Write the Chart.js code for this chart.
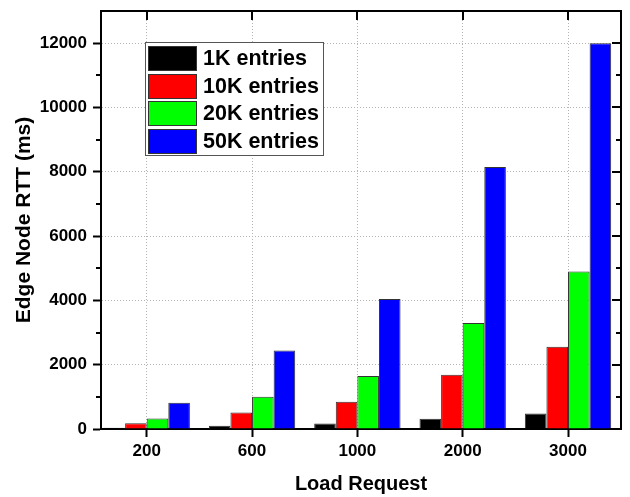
<!DOCTYPE html>
<html>
<head>
<meta charset="utf-8">
<script src="https://cdn.jsdelivr.net/npm/chart.js@4.4.0/dist/chart.umd.min.js"></script>
<style>
  html, body { margin: 0; padding: 0; background: #fff; }
  #wrap { width: 630px; height: 497px; }
</style>
</head>
<body>
<div id="wrap"><canvas id="rtt"></canvas></div>
<script>
// Edge node RTT vs load request, one series per table size
const LOADS   = ['200', '600', '1000', '2000', '3000'];
const SERIES  = ['1K entries', '10K entries', '20K entries', '50K entries'];
const RTT_1K  = [40, 100, 170, 320, 480];
const RTT_10K = [180, 510, 850, 1690, 2560];
const RTT_20K = [330, 1000, 1650, 3300, 4900];
const RTT_50K = [820, 2440, 4040, 8150, 12000];
const Y_MAX   = 13000;

const FONT   = "'Liberation Sans', Arial, sans-serif";
const COLORS = ['#000000', '#ff0000', '#00ff00', '#0000ff'];
const GRID   = '#b4b4b4';
const CLEAR  = 'rgba(0,0,0,0)';

Chart.defaults.font.family = FONT;
Chart.defaults.font.weight = 'bold';
Chart.defaults.color = '#000';

const isMajor = v => v % 2000 === 0;

// top/right frame, inward ticks and the left minor ticks
const frameTicks = {
	id: 'frameTicks',
	afterDraw( chart ) {
		const { ctx, chartArea: a, scales: { x, y } } = chart;
		ctx.save();
		ctx.strokeStyle = '#000';
		ctx.lineWidth = 2;
		ctx.beginPath();
		ctx.moveTo( a.left - 1, a.top );
		ctx.lineTo( a.right, a.top );
		ctx.lineTo( a.right, a.bottom + 1 );
		y.ticks.forEach( t => {
			if ( t.value >= Y_MAX ) return;
			const py = Math.round( y.getPixelForValue( t.value ) );
			const major = isMajor( t.value );
			if ( !major ) {
				ctx.moveTo( a.left - 5, py );
				ctx.lineTo( a.left, py );
			}
			ctx.moveTo( a.right - ( major ? 9 : 5 ), py );
			ctx.lineTo( a.right, py );
		} );
		x.ticks.forEach( t => {
			const px = Math.round( x.getPixelForValue( t.value ) );
			ctx.moveTo( px, a.top );
			ctx.lineTo( px, a.top + 9 );
		} );
		ctx.stroke();
		ctx.restore();
	},
};

// boxed legend inside the plot area
const boxLegend = {
	id: 'boxLegend',
	afterDraw( chart ) {
		const { ctx, chartArea: a } = chart;
		const bx = a.left + 44, by = a.top + 31, bw = 178, bh = 113;
		ctx.save();
		ctx.fillStyle = '#fff';
		ctx.fillRect( bx, by, bw, bh );
		ctx.strokeStyle = '#555';
		ctx.lineWidth = 1;
		ctx.strokeRect( bx + 0.5, by + 0.5, bw, bh );
		ctx.font = 'bold 21.5px ' + FONT;
		ctx.textBaseline = 'middle';
		chart.data.datasets.forEach( ( ds, i ) => {
			const sy = Math.round( by + 4 + i * 27.5 );
			ctx.fillStyle = ds.backgroundColor;
			ctx.fillRect( bx + 3, sy, 48, 24 );
			ctx.strokeStyle = '#333';
			ctx.strokeRect( bx + 3.5, sy + 0.5, 48, 24 );
			ctx.fillStyle = '#000';
			ctx.fillText( ds.label, bx + 58, sy + 13 );
		} );
		ctx.restore();
	},
};

const seriesData = [ RTT_1K, RTT_10K, RTT_20K, RTT_50K ];

new Chart( document.getElementById( 'rtt' ), {
	type: 'bar',
	data: {
		datasets: seriesData.map( ( vals, i ) => ( {
			label          : SERIES[ i ],
			data           : vals.map( ( v, j ) => ( { x: j, y: v } ) ),
			backgroundColor: COLORS[ i ],
			borderColor    : '#333',
			borderWidth    : 1,
			categoryPercentage: 0.82,
			barPercentage  : 1.0,
		} ) ),
	},
	options: {
		responsive: true,
		maintainAspectRatio: false,
		animation: false,
		devicePixelRatio: 1,
		layout: { padding: { top: 11, right: 9, left: 0, bottom: 0 } },
		plugins: {
			legend: { display: false },
			tooltip: { enabled: false },
		},
		scales: {
			x: {
				type: 'linear',
				min: -0.434,
				max: 4.503,
				offset: false,
				afterBuildTicks: s => { s.ticks = LOADS.map( ( _, i ) => ( { value: i } ) ); },
				afterFit: s => { s.height = 68; s.paddingLeft = 0; s.paddingRight = 0; },
				ticks: {
					callback: v => LOADS[ v ],
					font: { size: 17, weight: 'bold' },
					color: '#000',
					padding: 4,
					maxRotation: 0,
					autoSkip: false,
				},
				grid: {
					offset: false,
					color: GRID,
					lineWidth: 1,
					tickColor: '#000',
					tickLength: 8,
					tickWidth: 2,
				},
				border: { color: '#000', width: 2, dash: [ 1, 2 ] },
				title: {
					display: true,
					text: 'Load Request',
					font: { size: 20, weight: 'bold' },
					color: '#000',
					padding: { top: 0, bottom: 1 },
				},
			},
			y: {
				min: 0,
				max: Y_MAX,
				afterFit: s => { s.width = 101; s.paddingTop = 0; s.paddingBottom = 0; },
				ticks: {
					stepSize: 1000,
					autoSkip: false,
					callback: v => ( isMajor( v ) ? v : '' ),
					font: { size: 17, weight: 'bold' },
					color: '#000',
					padding: 6,
				},
				grid: {
					color: c => ( c.tick && isMajor( c.tick.value ) ? GRID : CLEAR ),
					tickColor: c => ( c.tick && isMajor( c.tick.value ) ? '#000' : CLEAR ),
					lineWidth: 1,
					tickLength: 8,
					tickWidth: 2,
				},
				border: { color: '#000', width: 2, dash: [ 1, 2 ] },
				title: {
					display: true,
					text: 'Edge Node RTT (ms)',
					font: { size: 21, weight: 'bold' },
					color: '#000',
					padding: { top: 12, bottom: 0 },
				},
			},
		},
	},
	plugins: [ frameTicks, boxLegend ],
} );
</script>
</body>
</html>
